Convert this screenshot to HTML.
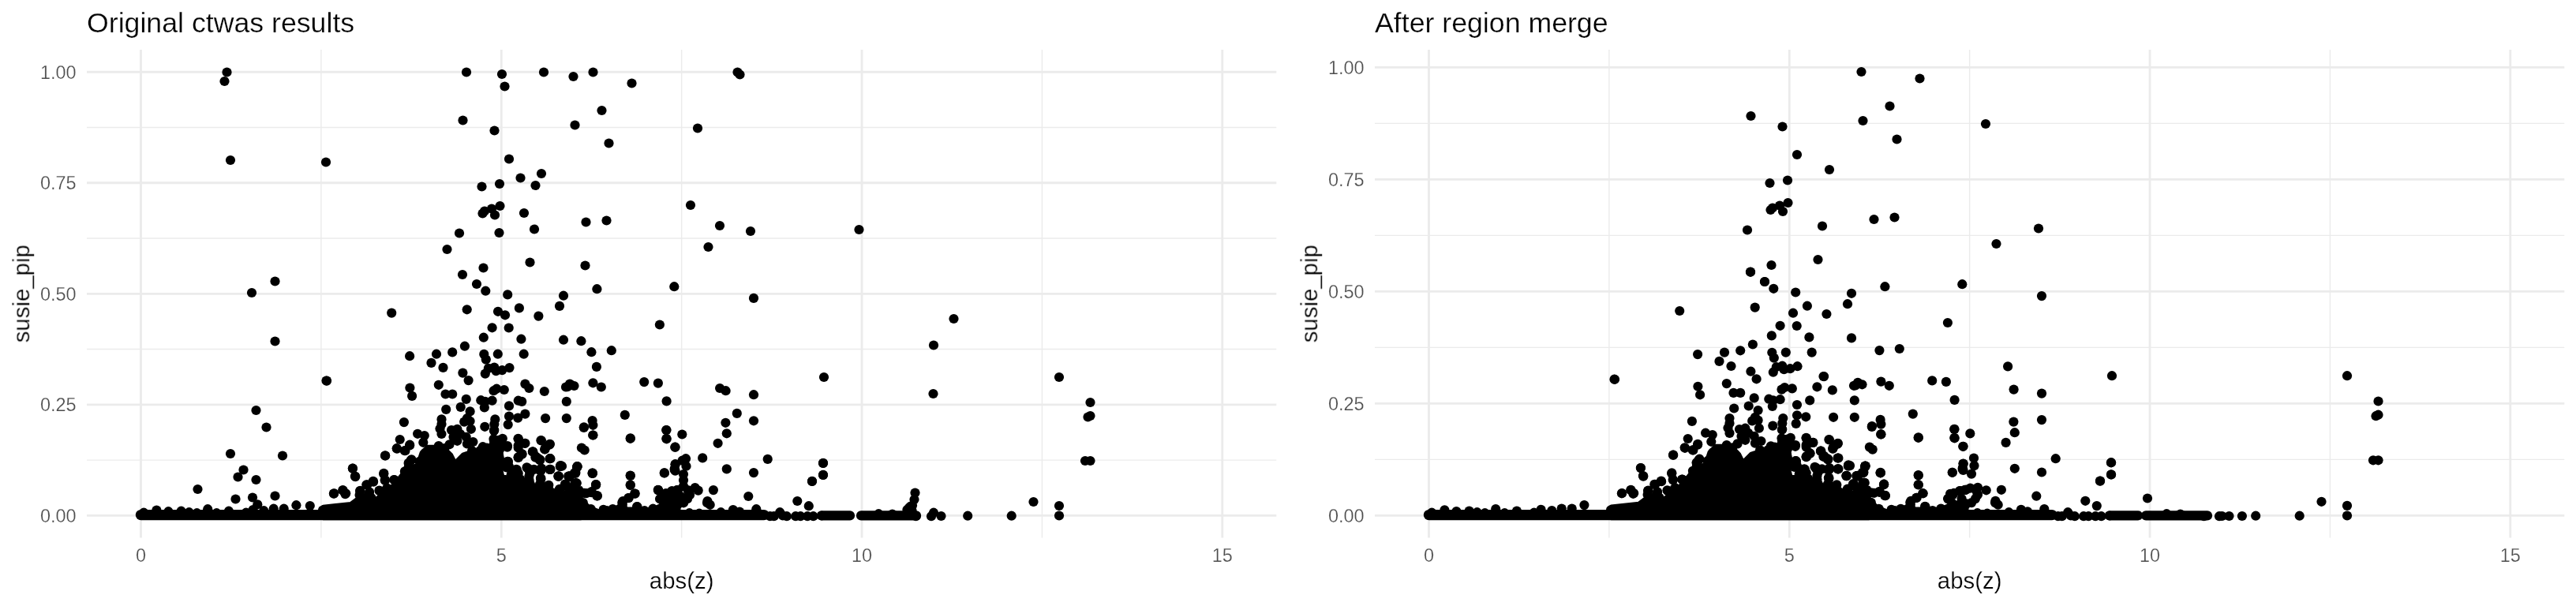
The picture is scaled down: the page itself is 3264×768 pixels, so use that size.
<!DOCTYPE html>
<html><head><meta charset="utf-8"><title>ctwas</title>
<style>
html,body{margin:0;padding:0;background:#fff}
svg{display:block}
text{font-family:"Liberation Sans",sans-serif;stroke:#fff;stroke-width:0.25px;paint-order:fill stroke}
.tk{font-size:23.47px;fill:#4d4d4d}
.ax{font-size:29.4px;fill:#000}
.ti{font-size:35.7px;fill:#000}
</style></head><body>
<svg width="3264" height="768" viewBox="0 0 3264 768">
<rect width="3264" height="768" fill="#fff"/>
<g style="opacity:0.995"><line x1="406.89" x2="406.89" y1="63.1" y2="681.5" stroke="#ebebeb" stroke-width="1.42"/>
<line x1="863.65" x2="863.65" y1="63.1" y2="681.5" stroke="#ebebeb" stroke-width="1.42"/>
<line x1="1320.41" x2="1320.41" y1="63.1" y2="681.5" stroke="#ebebeb" stroke-width="1.42"/>
<line x1="110.0" x2="1617.3" y1="583.12" y2="583.12" stroke="#ebebeb" stroke-width="1.42"/>
<line x1="110.0" x2="1617.3" y1="442.57" y2="442.57" stroke="#ebebeb" stroke-width="1.42"/>
<line x1="110.0" x2="1617.3" y1="302.03" y2="302.03" stroke="#ebebeb" stroke-width="1.42"/>
<line x1="110.0" x2="1617.3" y1="161.48" y2="161.48" stroke="#ebebeb" stroke-width="1.42"/>
<line x1="178.51" x2="178.51" y1="63.1" y2="681.5" stroke="#ebebeb" stroke-width="2.85"/>
<text x="178.51" y="711.6" text-anchor="middle" class="tk">0</text>
<line x1="635.27" x2="635.27" y1="63.1" y2="681.5" stroke="#ebebeb" stroke-width="2.85"/>
<text x="635.27" y="711.6" text-anchor="middle" class="tk">5</text>
<line x1="1092.03" x2="1092.03" y1="63.1" y2="681.5" stroke="#ebebeb" stroke-width="2.85"/>
<text x="1092.03" y="711.6" text-anchor="middle" class="tk">10</text>
<line x1="1548.79" x2="1548.79" y1="63.1" y2="681.5" stroke="#ebebeb" stroke-width="2.85"/>
<text x="1548.79" y="711.6" text-anchor="middle" class="tk">15</text>
<line x1="110.0" x2="1617.3" y1="653.40" y2="653.40" stroke="#ebebeb" stroke-width="2.85"/>
<text x="96.60" y="661.80" text-anchor="end" class="tk">0.00</text>
<line x1="110.0" x2="1617.3" y1="512.85" y2="512.85" stroke="#ebebeb" stroke-width="2.85"/>
<text x="96.60" y="521.25" text-anchor="end" class="tk">0.25</text>
<line x1="110.0" x2="1617.3" y1="372.30" y2="372.30" stroke="#ebebeb" stroke-width="2.85"/>
<text x="96.60" y="380.70" text-anchor="end" class="tk">0.50</text>
<line x1="110.0" x2="1617.3" y1="231.75" y2="231.75" stroke="#ebebeb" stroke-width="2.85"/>
<text x="96.60" y="240.15" text-anchor="end" class="tk">0.75</text>
<line x1="110.0" x2="1617.3" y1="91.20" y2="91.20" stroke="#ebebeb" stroke-width="2.85"/>
<text x="96.60" y="99.60" text-anchor="end" class="tk">1.00</text>
<text x="110.00" y="40.8" class="ti">Original ctwas results</text>
<text x="863.65" y="745.8" text-anchor="middle" class="ax">abs(z)</text>
<text transform="translate(37.20,372.30) rotate(-90)" text-anchor="middle" class="ax">susie_pip</text>
<line x1="2038.89" x2="2038.89" y1="63.1" y2="681.5" stroke="#ebebeb" stroke-width="1.42"/>
<line x1="2495.65" x2="2495.65" y1="63.1" y2="681.5" stroke="#ebebeb" stroke-width="1.42"/>
<line x1="2952.41" x2="2952.41" y1="63.1" y2="681.5" stroke="#ebebeb" stroke-width="1.42"/>
<line x1="1742.0" x2="3249.3" y1="582.40" y2="582.40" stroke="#ebebeb" stroke-width="1.42"/>
<line x1="1742.0" x2="3249.3" y1="440.40" y2="440.40" stroke="#ebebeb" stroke-width="1.42"/>
<line x1="1742.0" x2="3249.3" y1="298.40" y2="298.40" stroke="#ebebeb" stroke-width="1.42"/>
<line x1="1742.0" x2="3249.3" y1="156.40" y2="156.40" stroke="#ebebeb" stroke-width="1.42"/>
<line x1="1810.51" x2="1810.51" y1="63.1" y2="681.5" stroke="#ebebeb" stroke-width="2.85"/>
<text x="1810.51" y="711.6" text-anchor="middle" class="tk">0</text>
<line x1="2267.27" x2="2267.27" y1="63.1" y2="681.5" stroke="#ebebeb" stroke-width="2.85"/>
<text x="2267.27" y="711.6" text-anchor="middle" class="tk">5</text>
<line x1="2724.03" x2="2724.03" y1="63.1" y2="681.5" stroke="#ebebeb" stroke-width="2.85"/>
<text x="2724.03" y="711.6" text-anchor="middle" class="tk">10</text>
<line x1="3180.79" x2="3180.79" y1="63.1" y2="681.5" stroke="#ebebeb" stroke-width="2.85"/>
<text x="3180.79" y="711.6" text-anchor="middle" class="tk">15</text>
<line x1="1742.0" x2="3249.3" y1="653.40" y2="653.40" stroke="#ebebeb" stroke-width="2.85"/>
<text x="1728.60" y="661.80" text-anchor="end" class="tk">0.00</text>
<line x1="1742.0" x2="3249.3" y1="511.40" y2="511.40" stroke="#ebebeb" stroke-width="2.85"/>
<text x="1728.60" y="519.80" text-anchor="end" class="tk">0.25</text>
<line x1="1742.0" x2="3249.3" y1="369.40" y2="369.40" stroke="#ebebeb" stroke-width="2.85"/>
<text x="1728.60" y="377.80" text-anchor="end" class="tk">0.50</text>
<line x1="1742.0" x2="3249.3" y1="227.40" y2="227.40" stroke="#ebebeb" stroke-width="2.85"/>
<text x="1728.60" y="235.80" text-anchor="end" class="tk">0.75</text>
<line x1="1742.0" x2="3249.3" y1="85.40" y2="85.40" stroke="#ebebeb" stroke-width="2.85"/>
<text x="1728.60" y="93.80" text-anchor="end" class="tk">1.00</text>
<text x="1742.00" y="40.8" class="ti">After region merge</text>
<text x="2495.65" y="745.8" text-anchor="middle" class="ax">abs(z)</text>
<text transform="translate(1669.20,372.30) rotate(-90)" text-anchor="middle" class="ax">susie_pip</text></g>
<g fill="#000"><polygon points="482.2,643.5 484.7,626.1 499.7,613.6 509.7,601.1 514.6,593.7 532.1,588.7 537.1,580.0 549.5,573.7 559.5,570.0 567.0,578.7 570.7,591.2 579.4,593.7 583.2,586.2 596.9,581.2 611.8,576.7 624.3,570.0 635.5,576.2 638.0,588.7 634.3,593.7 636.8,603.6 649.2,606.1 664.2,608.6 674.1,613.6 686.6,619.8 699.1,623.6 724.0,626.1 724.0,643.5" stroke="#000" stroke-width="5" stroke-linejoin="round"/>
<polygon points="409.5,642.2 444.4,638.5 454.4,631.0 476.8,632.3 486.8,623.6 499.2,618.6 509.2,608.6 516.7,594.9 529.1,588.7 534.1,573.7 541.6,566.2 561.5,566.2 571.5,576.2 576.5,586.2 586.5,576.2 601.4,571.2 616.4,568.7 630.1,576.2 632.6,589.9 631.3,609.8 651.3,616.1 668.7,623.6 671.2,637.3 678.7,623.6 693.6,618.6 711.1,626.0 716.0,634.8 721.0,623.6 736.0,618.6 736.0,656.7 409.5,656.7" stroke="#000" stroke-width="5" stroke-linejoin="round"/>
<polygon points="620.0,605.3 631.9,611.3 659.6,619.2 671.5,623.2 679.4,619.2 695.2,619.2 707.1,623.2 719.0,627.1 730.9,625.1 738.8,635.0 746.7,643.0 758.6,647.9 778.4,645.0 788.3,639.0 794.3,645.0 806.1,645.0 818.0,645.9 829.9,644.0 837.8,640.0 847.7,637.0 860.0,635.0 860.0,655.4 620.0,655.4" stroke="#000" stroke-width="5" stroke-linejoin="round"/><polygon points="2114.2,643.4 2116.7,625.8 2131.7,613.2 2141.7,600.6 2146.6,593.1 2164.1,588.0 2169.1,579.2 2181.5,572.9 2191.5,569.1 2199.0,577.9 2202.7,590.6 2211.4,593.1 2215.2,585.5 2228.9,580.5 2243.8,575.9 2256.3,569.1 2267.5,575.4 2270.0,588.0 2266.3,593.1 2268.8,603.1 2281.2,605.6 2296.2,608.1 2306.1,613.2 2318.6,619.5 2331.1,623.3 2356.0,625.8 2356.0,643.4" stroke="#000" stroke-width="5" stroke-linejoin="round"/>
<polygon points="2041.5,642.1 2076.4,638.3 2086.4,630.8 2108.8,632.1 2118.8,623.3 2131.2,618.2 2141.2,608.1 2148.7,594.3 2161.1,588.0 2166.1,572.9 2173.6,565.3 2193.5,565.3 2203.5,575.4 2208.5,585.5 2218.5,575.4 2233.4,570.4 2248.4,567.8 2262.1,575.4 2264.6,589.2 2263.3,609.4 2283.3,615.7 2300.7,623.3 2303.2,637.1 2310.7,623.3 2325.6,618.2 2343.1,625.7 2348.0,634.6 2353.0,623.3 2368.0,618.2 2368.0,656.7 2041.5,656.7" stroke="#000" stroke-width="5" stroke-linejoin="round"/>
<polygon points="2252.0,604.8 2263.9,610.9 2291.6,618.8 2303.5,622.9 2311.4,618.8 2327.2,618.8 2339.1,622.9 2351.0,626.8 2362.9,624.8 2370.8,634.8 2378.7,642.9 2390.6,647.8 2410.4,644.9 2420.3,638.9 2426.3,644.9 2438.1,644.9 2450.0,645.8 2461.9,643.9 2469.8,639.9 2479.7,636.8 2492.0,634.8 2492.0,655.4 2252.0,655.4" stroke="#000" stroke-width="5" stroke-linejoin="round"/><line x1="178.5" x2="968" y1="652.6" y2="652.6" stroke="#000" stroke-width="13.4" stroke-linecap="round"/><line x1="1041" x2="1077" y1="653.4" y2="653.4" stroke="#000" stroke-width="12.2" stroke-linecap="round"/><line x1="1091" x2="1161" y1="653.4" y2="653.4" stroke="#000" stroke-width="12.2" stroke-linecap="round"/><line x1="1810.5" x2="2600" y1="652.6" y2="652.6" stroke="#000" stroke-width="13.4" stroke-linecap="round"/><line x1="2673" x2="2709" y1="653.4" y2="653.4" stroke="#000" stroke-width="12.2" stroke-linecap="round"/><line x1="2719" x2="2797" y1="653.4" y2="653.4" stroke="#000" stroke-width="12.2" stroke-linecap="round"/><circle cx="287.5" cy="91.5" r="6.1"/><circle cx="284.5" cy="103.0" r="6.1"/><circle cx="292.0" cy="203.0" r="6.1"/><circle cx="413.0" cy="205.5" r="6.1"/><circle cx="348.5" cy="356.5" r="6.1"/><circle cx="591.0" cy="91.5" r="6.1"/><circle cx="636.0" cy="94.0" r="6.1"/><circle cx="639.5" cy="109.5" r="6.1"/><circle cx="689.0" cy="91.5" r="6.1"/><circle cx="726.5" cy="97.0" r="6.1"/><circle cx="586.5" cy="152.5" r="6.1"/><circle cx="626.5" cy="165.5" r="6.1"/><circle cx="728.5" cy="158.5" r="6.1"/><circle cx="645.0" cy="201.5" r="6.1"/><circle cx="686.0" cy="220.0" r="6.1"/><circle cx="659.5" cy="225.5" r="6.1"/><circle cx="678.5" cy="235.0" r="6.1"/><circle cx="633.0" cy="233.0" r="6.1"/><circle cx="610.5" cy="236.5" r="6.1"/><circle cx="633.5" cy="261.0" r="6.1"/><circle cx="623.0" cy="264.5" r="6.1"/><circle cx="614.0" cy="267.5" r="6.1"/><circle cx="611.5" cy="270.5" r="6.1"/><circle cx="627.0" cy="272.5" r="6.1"/><circle cx="664.0" cy="270.0" r="6.1"/><circle cx="677.0" cy="290.5" r="6.1"/><circle cx="632.5" cy="295.0" r="6.1"/><circle cx="582.0" cy="295.5" r="6.1"/><circle cx="566.5" cy="316.0" r="6.1"/><circle cx="671.5" cy="332.5" r="6.1"/><circle cx="612.5" cy="339.5" r="6.1"/><circle cx="586.0" cy="348.0" r="6.1"/><circle cx="604.0" cy="360.0" r="6.1"/><circle cx="742.5" cy="281.5" r="6.1"/><circle cx="741.5" cy="336.5" r="6.1"/><circle cx="751.5" cy="91.5" r="6.1"/><circle cx="800.5" cy="105.5" r="6.1"/><circle cx="762.5" cy="140.0" r="6.1"/><circle cx="771.5" cy="181.5" r="6.1"/><circle cx="934.5" cy="91.5" r="6.1"/><circle cx="937.5" cy="94.5" r="6.1"/><circle cx="884.0" cy="162.5" r="6.1"/><circle cx="875.0" cy="260.0" r="6.1"/><circle cx="768.5" cy="279.5" r="6.1"/><circle cx="912.0" cy="286.0" r="6.1"/><circle cx="951.0" cy="293.0" r="6.1"/><circle cx="1088.5" cy="291.0" r="6.1"/><circle cx="897.5" cy="313.0" r="6.1"/><circle cx="319.0" cy="371.0" r="6.1"/><circle cx="348.5" cy="432.5" r="6.1"/><circle cx="413.5" cy="482.5" r="6.1"/><circle cx="324.5" cy="520.0" r="6.1"/><circle cx="337.5" cy="541.5" r="6.1"/><circle cx="292.0" cy="575.0" r="6.1"/><circle cx="358.0" cy="577.5" r="6.1"/><circle cx="308.5" cy="595.5" r="6.1"/><circle cx="301.5" cy="604.5" r="6.1"/><circle cx="324.5" cy="608.0" r="6.1"/><circle cx="250.5" cy="620.0" r="6.1"/><circle cx="298.5" cy="632.5" r="6.1"/><circle cx="320.0" cy="630.5" r="6.1"/><circle cx="348.5" cy="628.5" r="6.1"/><circle cx="615.3" cy="368.7" r="6.1"/><circle cx="643.2" cy="373.4" r="6.1"/><circle cx="714.0" cy="374.7" r="6.1"/><circle cx="709.0" cy="387.9" r="6.1"/><circle cx="496.2" cy="396.6" r="6.1"/><circle cx="591.7" cy="392.3" r="6.1"/><circle cx="657.9" cy="390.4" r="6.1"/><circle cx="631.0" cy="394.8" r="6.1"/><circle cx="640.0" cy="399.3" r="6.1"/><circle cx="682.4" cy="400.6" r="6.1"/><circle cx="623.6" cy="415.3" r="6.1"/><circle cx="644.7" cy="415.5" r="6.1"/><circle cx="612.8" cy="427.7" r="6.1"/><circle cx="660.4" cy="429.7" r="6.1"/><circle cx="714.0" cy="430.7" r="6.1"/><circle cx="588.9" cy="438.7" r="6.1"/><circle cx="573.2" cy="446.4" r="6.1"/><circle cx="553.0" cy="448.7" r="6.1"/><circle cx="519.1" cy="451.2" r="6.1"/><circle cx="546.5" cy="459.9" r="6.1"/><circle cx="561.5" cy="465.9" r="6.1"/><circle cx="613.3" cy="448.9" r="6.1"/><circle cx="615.8" cy="455.6" r="6.1"/><circle cx="630.8" cy="448.7" r="6.1"/><circle cx="663.7" cy="448.7" r="6.1"/><circle cx="586.4" cy="472.6" r="6.1"/><circle cx="593.6" cy="482.1" r="6.1"/><circle cx="614.8" cy="473.6" r="6.1"/><circle cx="618.8" cy="466.9" r="6.1"/><circle cx="626.3" cy="465.6" r="6.1"/><circle cx="628.5" cy="470.1" r="6.1"/><circle cx="636.3" cy="469.1" r="6.1"/><circle cx="645.5" cy="466.1" r="6.1"/><circle cx="414.0" cy="482.6" r="6.1"/><circle cx="519.4" cy="491.5" r="6.1"/><circle cx="555.8" cy="487.8" r="6.1"/><circle cx="665.4" cy="486.6" r="6.1"/><circle cx="670.4" cy="492.0" r="6.1"/><circle cx="756.4" cy="366.2" r="6.1"/><circle cx="854.3" cy="363.2" r="6.1"/><circle cx="955.0" cy="377.9" r="6.1"/><circle cx="835.9" cy="411.5" r="6.1"/><circle cx="736.4" cy="432.2" r="6.1"/><circle cx="749.4" cy="446.2" r="6.1"/><circle cx="774.8" cy="444.2" r="6.1"/><circle cx="755.9" cy="464.9" r="6.1"/><circle cx="816.2" cy="484.1" r="6.1"/><circle cx="833.9" cy="485.6" r="6.1"/><circle cx="751.4" cy="485.3" r="6.1"/><circle cx="761.8" cy="490.5" r="6.1"/><circle cx="722.0" cy="486.6" r="6.1"/><circle cx="727.5" cy="489.0" r="6.1"/><circle cx="717.0" cy="490.5" r="6.1"/><circle cx="1208.5" cy="404.0" r="6.1"/><circle cx="1183.0" cy="437.5" r="6.1"/><circle cx="1044.0" cy="478.0" r="6.1"/><circle cx="1182.5" cy="499.0" r="6.1"/><circle cx="1342.0" cy="478.0" r="6.1"/><circle cx="1381.5" cy="510.0" r="6.1"/><circle cx="1381.5" cy="527.0" r="6.1"/><circle cx="1378.5" cy="528.5" r="6.1"/><circle cx="1375.0" cy="584.0" r="6.1"/><circle cx="1381.5" cy="584.0" r="6.1"/><circle cx="1043.0" cy="587.0" r="6.1"/><circle cx="1043.0" cy="602.0" r="6.1"/><circle cx="1029.0" cy="610.0" r="6.1"/><circle cx="1309.5" cy="636.0" r="6.1"/><circle cx="1342.0" cy="641.0" r="6.1"/><circle cx="1159.5" cy="624.5" r="6.1"/><circle cx="1158.5" cy="633.0" r="6.1"/><circle cx="1156.0" cy="640.5" r="6.1"/><circle cx="1151.5" cy="644.0" r="6.1"/><circle cx="522.1" cy="501.9" r="6.1"/><circle cx="564.5" cy="499.5" r="6.1"/><circle cx="573.2" cy="499.5" r="6.1"/><circle cx="590.7" cy="505.9" r="6.1"/><circle cx="629.3" cy="492.7" r="6.1"/><circle cx="625.5" cy="495.2" r="6.1"/><circle cx="638.8" cy="494.0" r="6.1"/><circle cx="609.3" cy="507.2" r="6.1"/><circle cx="614.8" cy="508.9" r="6.1"/><circle cx="623.6" cy="507.7" r="6.1"/><circle cx="613.8" cy="516.4" r="6.1"/><circle cx="583.7" cy="515.9" r="6.1"/><circle cx="565.2" cy="518.9" r="6.1"/><circle cx="595.6" cy="521.4" r="6.1"/><circle cx="656.7" cy="507.7" r="6.1"/><circle cx="661.2" cy="508.9" r="6.1"/><circle cx="645.0" cy="514.4" r="6.1"/><circle cx="689.8" cy="496.0" r="6.1"/><circle cx="719.0" cy="490.2" r="6.1"/><circle cx="717.8" cy="508.9" r="6.1"/><circle cx="665.4" cy="524.6" r="6.1"/><circle cx="656.2" cy="529.6" r="6.1"/><circle cx="645.0" cy="527.6" r="6.1"/><circle cx="643.7" cy="538.1" r="6.1"/><circle cx="691.1" cy="530.1" r="6.1"/><circle cx="717.8" cy="530.1" r="6.1"/><circle cx="627.3" cy="531.4" r="6.1"/><circle cx="626.3" cy="537.6" r="6.1"/><circle cx="626.3" cy="545.1" r="6.1"/><circle cx="614.3" cy="540.8" r="6.1"/><circle cx="559.5" cy="531.4" r="6.1"/><circle cx="559.5" cy="537.6" r="6.1"/><circle cx="557.5" cy="543.3" r="6.1"/><circle cx="559.5" cy="550.0" r="6.1"/><circle cx="591.9" cy="530.1" r="6.1"/><circle cx="588.2" cy="534.6" r="6.1"/><circle cx="595.6" cy="533.8" r="6.1"/><circle cx="596.9" cy="543.8" r="6.1"/><circle cx="572.0" cy="545.1" r="6.1"/><circle cx="579.4" cy="543.8" r="6.1"/><circle cx="583.2" cy="550.0" r="6.1"/><circle cx="574.5" cy="553.8" r="6.1"/><circle cx="579.4" cy="558.8" r="6.1"/><circle cx="569.5" cy="563.3" r="6.1"/><circle cx="590.7" cy="553.8" r="6.1"/><circle cx="591.9" cy="562.5" r="6.1"/><circle cx="599.4" cy="560.0" r="6.1"/><circle cx="511.9" cy="535.1" r="6.1"/><circle cx="529.1" cy="549.8" r="6.1"/><circle cx="537.8" cy="552.0" r="6.1"/><circle cx="536.3" cy="560.8" r="6.1"/><circle cx="506.7" cy="557.0" r="6.1"/><circle cx="519.1" cy="564.5" r="6.1"/><circle cx="502.7" cy="568.2" r="6.1"/><circle cx="513.4" cy="571.2" r="6.1"/><circle cx="488.2" cy="577.5" r="6.1"/><circle cx="521.4" cy="582.4" r="6.1"/><circle cx="517.6" cy="586.9" r="6.1"/><circle cx="446.9" cy="593.7" r="6.1"/><circle cx="450.3" cy="604.1" r="6.1"/><circle cx="486.2" cy="600.6" r="6.1"/><circle cx="487.7" cy="608.6" r="6.1"/><circle cx="472.8" cy="609.9" r="6.1"/><circle cx="465.3" cy="614.3" r="6.1"/><circle cx="499.7" cy="608.1" r="6.1"/><circle cx="505.9" cy="609.9" r="6.1"/><circle cx="422.9" cy="625.6" r="6.1"/><circle cx="434.4" cy="621.6" r="6.1"/><circle cx="437.4" cy="626.1" r="6.1"/><circle cx="456.1" cy="622.3" r="6.1"/><circle cx="456.8" cy="628.5" r="6.1"/><circle cx="467.3" cy="626.1" r="6.1"/><circle cx="469.8" cy="631.0" r="6.1"/><circle cx="481.0" cy="622.3" r="6.1"/><circle cx="489.7" cy="619.8" r="6.1"/><circle cx="656.7" cy="556.3" r="6.1"/><circle cx="665.4" cy="561.8" r="6.1"/><circle cx="656.7" cy="567.5" r="6.1"/><circle cx="661.2" cy="575.0" r="6.1"/><circle cx="656.7" cy="580.0" r="6.1"/><circle cx="685.4" cy="558.0" r="6.1"/><circle cx="696.6" cy="563.0" r="6.1"/><circle cx="690.3" cy="569.5" r="6.1"/><circle cx="675.4" cy="572.5" r="6.1"/><circle cx="679.1" cy="578.7" r="6.1"/><circle cx="684.1" cy="583.2" r="6.1"/><circle cx="696.6" cy="581.2" r="6.1"/><circle cx="710.3" cy="590.4" r="6.1"/><circle cx="696.6" cy="594.9" r="6.1"/><circle cx="707.8" cy="603.6" r="6.1"/><circle cx="720.2" cy="603.6" r="6.1"/><circle cx="625.5" cy="556.3" r="6.1"/><circle cx="635.5" cy="558.8" r="6.1"/><circle cx="643.0" cy="565.0" r="6.1"/><circle cx="631.8" cy="565.0" r="6.1"/><circle cx="611.8" cy="566.2" r="6.1"/><circle cx="616.8" cy="570.0" r="6.1"/><circle cx="598.1" cy="571.2" r="6.1"/><circle cx="643.0" cy="584.9" r="6.1"/><circle cx="643.7" cy="591.2" r="6.1"/><circle cx="654.2" cy="594.9" r="6.1"/><circle cx="656.7" cy="599.9" r="6.1"/><circle cx="659.2" cy="607.4" r="6.1"/><circle cx="669.2" cy="593.7" r="6.1"/><circle cx="676.6" cy="594.9" r="6.1"/><circle cx="684.1" cy="596.1" r="6.1"/><circle cx="670.4" cy="603.6" r="6.1"/><circle cx="685.4" cy="606.1" r="6.1"/><circle cx="671.7" cy="613.6" r="6.1"/><circle cx="684.1" cy="613.6" r="6.1"/><circle cx="695.3" cy="614.8" r="6.1"/><circle cx="709.0" cy="619.8" r="6.1"/><circle cx="716.5" cy="614.8" r="6.1"/><circle cx="639.3" cy="608.6" r="6.1"/><circle cx="538.3" cy="574.2" r="6.1"/><circle cx="545.8" cy="570.0" r="6.1"/><circle cx="555.8" cy="565.0" r="6.1"/><circle cx="563.2" cy="568.2" r="6.1"/><circle cx="599.4" cy="575.0" r="6.1"/><circle cx="608.1" cy="571.2" r="6.1"/><circle cx="616.8" cy="567.5" r="6.1"/><circle cx="625.5" cy="563.8" r="6.1"/><circle cx="633.0" cy="570.0" r="6.1"/><circle cx="543.3" cy="581.2" r="6.1"/><circle cx="912.1" cy="492.0" r="6.1"/><circle cx="919.6" cy="495.2" r="6.1"/><circle cx="955.0" cy="500.2" r="6.1"/><circle cx="844.6" cy="508.4" r="6.1"/><circle cx="791.8" cy="525.9" r="6.1"/><circle cx="933.8" cy="523.9" r="6.1"/><circle cx="955.0" cy="533.3" r="6.1"/><circle cx="919.4" cy="535.8" r="6.1"/><circle cx="920.8" cy="549.3" r="6.1"/><circle cx="909.6" cy="561.8" r="6.1"/><circle cx="750.6" cy="533.1" r="6.1"/><circle cx="751.4" cy="538.8" r="6.1"/><circle cx="739.9" cy="541.3" r="6.1"/><circle cx="751.4" cy="551.5" r="6.1"/><circle cx="798.7" cy="555.8" r="6.1"/><circle cx="844.3" cy="545.1" r="6.1"/><circle cx="844.6" cy="556.3" r="6.1"/><circle cx="864.3" cy="550.5" r="6.1"/><circle cx="855.3" cy="566.7" r="6.1"/><circle cx="736.9" cy="567.5" r="6.1"/><circle cx="740.7" cy="570.5" r="6.1"/><circle cx="890.2" cy="580.4" r="6.1"/><circle cx="972.7" cy="581.9" r="6.1"/><circle cx="869.0" cy="581.2" r="6.1"/><circle cx="864.5" cy="583.7" r="6.1"/><circle cx="869.5" cy="590.7" r="6.1"/><circle cx="855.6" cy="588.2" r="6.1"/><circle cx="854.8" cy="593.7" r="6.1"/><circle cx="855.6" cy="596.6" r="6.1"/><circle cx="841.8" cy="599.4" r="6.1"/><circle cx="920.8" cy="594.4" r="6.1"/><circle cx="955.0" cy="599.1" r="6.1"/><circle cx="1029.0" cy="609.9" r="6.1"/><circle cx="866.0" cy="601.1" r="6.1"/><circle cx="866.0" cy="608.6" r="6.1"/><circle cx="866.0" cy="616.1" r="6.1"/><circle cx="731.4" cy="591.2" r="6.1"/><circle cx="712.0" cy="590.7" r="6.1"/><circle cx="729.4" cy="599.1" r="6.1"/><circle cx="722.0" cy="604.1" r="6.1"/><circle cx="750.6" cy="599.9" r="6.1"/><circle cx="798.7" cy="602.6" r="6.1"/><circle cx="798.7" cy="614.6" r="6.1"/><circle cx="804.7" cy="625.6" r="6.1"/><circle cx="796.7" cy="631.0" r="6.1"/><circle cx="789.3" cy="635.0" r="6.1"/><circle cx="755.1" cy="614.1" r="6.1"/><circle cx="730.7" cy="612.3" r="6.1"/><circle cx="717.0" cy="616.1" r="6.1"/><circle cx="727.0" cy="621.1" r="6.1"/><circle cx="736.9" cy="624.8" r="6.1"/><circle cx="749.4" cy="624.1" r="6.1"/><circle cx="756.9" cy="628.5" r="6.1"/><circle cx="719.5" cy="626.1" r="6.1"/><circle cx="833.9" cy="621.1" r="6.1"/><circle cx="839.1" cy="626.1" r="6.1"/><circle cx="836.6" cy="632.3" r="6.1"/><circle cx="851.6" cy="622.3" r="6.1"/><circle cx="859.0" cy="621.1" r="6.1"/><circle cx="871.5" cy="621.1" r="6.1"/><circle cx="880.7" cy="618.1" r="6.1"/><circle cx="884.7" cy="621.6" r="6.1"/><circle cx="874.0" cy="627.3" r="6.1"/><circle cx="861.5" cy="628.5" r="6.1"/><circle cx="849.1" cy="631.0" r="6.1"/><circle cx="903.9" cy="621.1" r="6.1"/><circle cx="896.4" cy="635.0" r="6.1"/><circle cx="948.3" cy="629.0" r="6.1"/><circle cx="1010.3" cy="635.0" r="6.1"/><circle cx="326.3" cy="639.3" r="6.1"/><circle cx="320.6" cy="646.0" r="6.1"/><circle cx="334.3" cy="647.2" r="6.1"/><circle cx="375.4" cy="640.2" r="6.1"/><circle cx="392.8" cy="641.0" r="6.1"/><circle cx="346.7" cy="644.7" r="6.1"/><circle cx="359.7" cy="644.7" r="6.1"/><circle cx="263.2" cy="645.2" r="6.1"/><circle cx="198.4" cy="646.5" r="6.1"/><circle cx="213.4" cy="648.2" r="6.1"/><circle cx="229.6" cy="647.7" r="6.1"/><circle cx="289.9" cy="647.7" r="6.1"/><circle cx="182.2" cy="649.7" r="6.1"/><circle cx="409.0" cy="646.5" r="6.1"/><circle cx="239.6" cy="649.2" r="6.1"/><circle cx="274.5" cy="650.2" r="6.1"/><circle cx="249.5" cy="650.2" r="6.1"/><circle cx="311.8" cy="649.7" r="6.1"/><circle cx="423.2" cy="625.3" r="6.1"/><circle cx="434.4" cy="621.1" r="6.1"/><circle cx="438.2" cy="625.3" r="6.1"/><circle cx="446.9" cy="593.6" r="6.1"/><circle cx="449.9" cy="603.6" r="6.1"/><circle cx="488.0" cy="577.4" r="6.1"/><circle cx="456.4" cy="621.8" r="6.1"/><circle cx="455.6" cy="627.3" r="6.1"/><circle cx="464.3" cy="614.3" r="6.1"/><circle cx="473.1" cy="610.6" r="6.1"/><circle cx="468.1" cy="623.6" r="6.1"/><circle cx="470.6" cy="631.0" r="6.1"/><circle cx="486.3" cy="599.9" r="6.1"/><circle cx="488.0" cy="608.6" r="6.1"/><circle cx="480.5" cy="621.6" r="6.1"/><circle cx="490.5" cy="618.6" r="6.1"/><circle cx="499.2" cy="608.1" r="6.1"/><circle cx="503.0" cy="568.7" r="6.1"/><circle cx="512.9" cy="571.2" r="6.1"/><circle cx="519.2" cy="563.7" r="6.1"/><circle cx="520.4" cy="583.7" r="6.1"/><circle cx="517.9" cy="591.2" r="6.1"/><circle cx="512.9" cy="597.4" r="6.1"/><circle cx="531.6" cy="584.9" r="6.1"/><circle cx="697.4" cy="581.2" r="6.1"/><circle cx="697.4" cy="594.9" r="6.1"/><circle cx="709.8" cy="591.2" r="6.1"/><circle cx="707.3" cy="603.6" r="6.1"/><circle cx="721.0" cy="603.6" r="6.1"/><circle cx="731.0" cy="592.4" r="6.1"/><circle cx="674.9" cy="572.5" r="6.1"/><circle cx="682.4" cy="581.2" r="6.1"/><circle cx="686.1" cy="593.6" r="6.1"/><circle cx="684.9" cy="606.1" r="6.1"/><circle cx="693.6" cy="616.1" r="6.1"/><circle cx="671.2" cy="613.6" r="6.1"/><circle cx="671.2" cy="597.4" r="6.1"/><circle cx="667.5" cy="592.4" r="6.1"/><circle cx="657.5" cy="578.7" r="6.1"/><circle cx="643.8" cy="584.9" r="6.1"/><circle cx="645.0" cy="591.2" r="6.1"/><circle cx="653.7" cy="597.4" r="6.1"/><circle cx="657.5" cy="608.6" r="6.1"/><circle cx="638.8" cy="611.1" r="6.1"/><circle cx="716.0" cy="613.6" r="6.1"/><circle cx="728.5" cy="612.3" r="6.1"/><circle cx="708.6" cy="621.1" r="6.1"/><circle cx="691.1" cy="567.5" r="6.1"/><circle cx="696.1" cy="563.7" r="6.1"/><circle cx="731.5" cy="591.2" r="6.1"/><circle cx="729.0" cy="599.9" r="6.1"/><circle cx="750.9" cy="599.9" r="6.1"/><circle cx="730.2" cy="612.3" r="6.1"/><circle cx="755.2" cy="614.1" r="6.1"/><circle cx="748.9" cy="623.6" r="6.1"/><circle cx="756.4" cy="628.5" r="6.1"/><circle cx="740.2" cy="624.8" r="6.1"/><circle cx="739.0" cy="639.8" r="6.1"/><circle cx="729.0" cy="622.3" r="6.1"/><circle cx="729.0" cy="632.3" r="6.1"/><circle cx="833.9" cy="621.1" r="6.1"/><circle cx="836.1" cy="632.3" r="6.1"/><circle cx="842.4" cy="627.3" r="6.1"/><circle cx="841.1" cy="637.3" r="6.1"/><circle cx="851.1" cy="622.3" r="6.1"/><circle cx="858.6" cy="621.1" r="6.1"/><circle cx="853.6" cy="632.3" r="6.1"/><circle cx="863.6" cy="629.8" r="6.1"/><circle cx="871.0" cy="632.3" r="6.1"/><circle cx="873.5" cy="626.0" r="6.1"/><circle cx="866.1" cy="637.3" r="6.1"/><circle cx="858.6" cy="639.8" r="6.1"/><circle cx="896.0" cy="637.3" r="6.1"/><circle cx="899.7" cy="639.8" r="6.1"/><circle cx="1024.8" cy="641.2" r="6.1"/><circle cx="958.3" cy="645.2" r="6.1"/><circle cx="928.9" cy="646.0" r="6.1"/><circle cx="807.5" cy="642.2" r="6.1"/><circle cx="816.7" cy="647.2" r="6.1"/><circle cx="827.4" cy="644.7" r="6.1"/><circle cx="788.8" cy="639.8" r="6.1"/><circle cx="777.6" cy="646.0" r="6.1"/><circle cx="768.9" cy="647.2" r="6.1"/><circle cx="748.9" cy="647.2" r="6.1"/><circle cx="873.5" cy="650.2" r="6.1"/><circle cx="886.0" cy="650.7" r="6.1"/><circle cx="913.4" cy="649.2" r="6.1"/><circle cx="937.1" cy="648.5" r="6.1"/><circle cx="988.2" cy="649.2" r="6.1"/><circle cx="1043.0" cy="586.9" r="6.1"/><circle cx="1043.0" cy="601.9" r="6.1"/><circle cx="1155.6" cy="647.2" r="6.1"/><circle cx="1160.6" cy="654.2" r="6.1"/><circle cx="1183.0" cy="649.7" r="6.1"/><circle cx="1180.0" cy="654.2" r="6.1"/><circle cx="1192.5" cy="654.0" r="6.1"/><circle cx="1226.2" cy="653.7" r="6.1"/><circle cx="1281.7" cy="653.7" r="6.1"/><circle cx="1342.0" cy="653.5" r="6.1"/><circle cx="1113.3" cy="651.2" r="6.1"/><circle cx="1130.7" cy="651.5" r="6.1"/><circle cx="1149.4" cy="646.0" r="6.1"/><circle cx="1153.1" cy="642.2" r="6.1"/><circle cx="625.9" cy="545.9" r="6.1"/><circle cx="631.9" cy="557.8" r="6.1"/><circle cx="642.8" cy="566.7" r="6.1"/><circle cx="625.9" cy="558.8" r="6.1"/><circle cx="636.8" cy="555.8" r="6.1"/><circle cx="656.6" cy="555.8" r="6.1"/><circle cx="665.1" cy="561.8" r="6.1"/><circle cx="656.6" cy="564.8" r="6.1"/><circle cx="661.6" cy="575.6" r="6.1"/><circle cx="656.6" cy="579.6" r="6.1"/><circle cx="685.9" cy="558.4" r="6.1"/><circle cx="696.8" cy="562.8" r="6.1"/><circle cx="690.3" cy="569.3" r="6.1"/><circle cx="675.0" cy="572.3" r="6.1"/><circle cx="678.4" cy="579.6" r="6.1"/><circle cx="684.4" cy="582.6" r="6.1"/><circle cx="696.8" cy="581.2" r="6.1"/><circle cx="696.8" cy="595.0" r="6.1"/><circle cx="710.1" cy="590.1" r="6.1"/><circle cx="707.7" cy="603.4" r="6.1"/><circle cx="731.5" cy="591.1" r="6.1"/><circle cx="727.9" cy="599.4" r="6.1"/><circle cx="721.4" cy="603.4" r="6.1"/><circle cx="729.9" cy="612.3" r="6.1"/><circle cx="717.0" cy="614.3" r="6.1"/><circle cx="750.7" cy="599.4" r="6.1"/><circle cx="755.0" cy="614.7" r="6.1"/><circle cx="756.6" cy="628.1" r="6.1"/><circle cx="749.7" cy="623.2" r="6.1"/><circle cx="742.8" cy="625.1" r="6.1"/><circle cx="751.3" cy="551.5" r="6.1"/><circle cx="739.8" cy="542.0" r="6.1"/><circle cx="798.8" cy="555.4" r="6.1"/><circle cx="798.8" cy="603.0" r="6.1"/><circle cx="798.8" cy="614.9" r="6.1"/><circle cx="804.2" cy="625.5" r="6.1"/><circle cx="796.2" cy="631.1" r="6.1"/><circle cx="788.3" cy="637.0" r="6.1"/><circle cx="807.1" cy="642.0" r="6.1"/><circle cx="844.4" cy="545.0" r="6.1"/><circle cx="844.4" cy="555.8" r="6.1"/><circle cx="855.6" cy="566.7" r="6.1"/><circle cx="855.6" cy="588.5" r="6.1"/><circle cx="854.7" cy="595.4" r="6.1"/><circle cx="841.8" cy="599.4" r="6.1"/><circle cx="833.9" cy="620.8" r="6.1"/><circle cx="836.8" cy="632.1" r="6.1"/><circle cx="843.8" cy="625.1" r="6.1"/><circle cx="851.7" cy="623.2" r="6.1"/><circle cx="857.6" cy="621.2" r="6.1"/><circle cx="625.0" cy="579.6" r="6.1"/><circle cx="631.9" cy="575.6" r="6.1"/><circle cx="643.8" cy="585.5" r="6.1"/><circle cx="627.9" cy="591.5" r="6.1"/><circle cx="641.8" cy="592.5" r="6.1"/><circle cx="654.7" cy="595.4" r="6.1"/><circle cx="647.7" cy="601.4" r="6.1"/><circle cx="655.6" cy="607.3" r="6.1"/><circle cx="639.8" cy="610.3" r="6.1"/><circle cx="625.9" cy="603.4" r="6.1"/><circle cx="668.5" cy="593.5" r="6.1"/><circle cx="671.5" cy="599.4" r="6.1"/><circle cx="685.3" cy="596.4" r="6.1"/><circle cx="670.5" cy="608.3" r="6.1"/><circle cx="685.3" cy="607.3" r="6.1"/><circle cx="669.5" cy="615.2" r="6.1"/><circle cx="684.4" cy="614.3" r="6.1"/><circle cx="694.9" cy="616.2" r="6.1"/><circle cx="709.1" cy="621.2" r="6.1"/><circle cx="723.0" cy="619.2" r="6.1"/><circle cx="734.9" cy="623.2" r="6.1"/><circle cx="738.8" cy="637.0" r="6.1"/><circle cx="748.7" cy="645.0" r="6.1"/><circle cx="776.4" cy="645.0" r="6.1"/><circle cx="764.6" cy="645.9" r="6.1"/><circle cx="975.7" cy="654.2" r="6.1"/><circle cx="980.7" cy="654.2" r="6.1"/><circle cx="991.9" cy="653.5" r="6.1"/><circle cx="996.9" cy="654.2" r="6.1"/><circle cx="1008.1" cy="654.2" r="6.1"/><circle cx="1014.3" cy="654.2" r="6.1"/><circle cx="1023.1" cy="654.2" r="6.1"/><circle cx="1030.5" cy="654.2" r="6.1"/><circle cx="1041.0" cy="653.5" r="6.1"/><circle cx="2218.0" cy="344.8" r="6.1"/><circle cx="2236.0" cy="357.0" r="6.1"/><circle cx="2045.5" cy="480.7" r="6.1"/><circle cx="2247.3" cy="365.8" r="6.1"/><circle cx="2275.2" cy="370.5" r="6.1"/><circle cx="2346.0" cy="371.8" r="6.1"/><circle cx="2341.0" cy="385.2" r="6.1"/><circle cx="2128.2" cy="394.0" r="6.1"/><circle cx="2223.7" cy="389.6" r="6.1"/><circle cx="2289.9" cy="387.7" r="6.1"/><circle cx="2272.0" cy="396.7" r="6.1"/><circle cx="2314.4" cy="398.0" r="6.1"/><circle cx="2255.6" cy="412.8" r="6.1"/><circle cx="2276.7" cy="413.0" r="6.1"/><circle cx="2244.8" cy="425.4" r="6.1"/><circle cx="2292.4" cy="427.4" r="6.1"/><circle cx="2346.0" cy="428.4" r="6.1"/><circle cx="2220.9" cy="436.5" r="6.1"/><circle cx="2205.2" cy="444.3" r="6.1"/><circle cx="2185.0" cy="446.6" r="6.1"/><circle cx="2151.1" cy="449.1" r="6.1"/><circle cx="2178.5" cy="457.9" r="6.1"/><circle cx="2193.5" cy="464.0" r="6.1"/><circle cx="2245.3" cy="446.8" r="6.1"/><circle cx="2247.8" cy="453.6" r="6.1"/><circle cx="2262.8" cy="446.6" r="6.1"/><circle cx="2295.7" cy="446.6" r="6.1"/><circle cx="2218.4" cy="470.7" r="6.1"/><circle cx="2225.6" cy="480.3" r="6.1"/><circle cx="2246.8" cy="471.7" r="6.1"/><circle cx="2250.8" cy="465.0" r="6.1"/><circle cx="2258.3" cy="463.7" r="6.1"/><circle cx="2260.5" cy="468.2" r="6.1"/><circle cx="2268.3" cy="467.2" r="6.1"/><circle cx="2277.5" cy="464.2" r="6.1"/><circle cx="2046.0" cy="480.8" r="6.1"/><circle cx="2151.4" cy="489.8" r="6.1"/><circle cx="2187.8" cy="486.1" r="6.1"/><circle cx="2302.4" cy="490.3" r="6.1"/><circle cx="2388.4" cy="363.2" r="6.1"/><circle cx="2486.3" cy="360.2" r="6.1"/><circle cx="2587.0" cy="375.1" r="6.1"/><circle cx="2467.9" cy="409.0" r="6.1"/><circle cx="2381.4" cy="444.1" r="6.1"/><circle cx="2406.8" cy="442.0" r="6.1"/><circle cx="2448.2" cy="482.4" r="6.1"/><circle cx="2465.9" cy="483.9" r="6.1"/><circle cx="2383.4" cy="483.6" r="6.1"/><circle cx="2393.8" cy="488.8" r="6.1"/><circle cx="2354.0" cy="484.9" r="6.1"/><circle cx="2359.5" cy="487.3" r="6.1"/><circle cx="2349.0" cy="488.8" r="6.1"/><circle cx="2676.0" cy="476.2" r="6.1"/><circle cx="2974.0" cy="476.2" r="6.1"/><circle cx="3013.5" cy="508.5" r="6.1"/><circle cx="3013.5" cy="525.7" r="6.1"/><circle cx="3010.5" cy="527.2" r="6.1"/><circle cx="3007.0" cy="583.3" r="6.1"/><circle cx="3013.5" cy="583.3" r="6.1"/><circle cx="2675.0" cy="586.3" r="6.1"/><circle cx="2675.0" cy="601.5" r="6.1"/><circle cx="2661.0" cy="609.6" r="6.1"/><circle cx="2941.5" cy="635.8" r="6.1"/><circle cx="2974.0" cy="640.9" r="6.1"/><circle cx="2154.1" cy="500.3" r="6.1"/><circle cx="2196.5" cy="497.9" r="6.1"/><circle cx="2205.2" cy="497.9" r="6.1"/><circle cx="2222.7" cy="504.4" r="6.1"/><circle cx="2261.3" cy="491.0" r="6.1"/><circle cx="2257.5" cy="493.6" r="6.1"/><circle cx="2270.8" cy="492.4" r="6.1"/><circle cx="2241.3" cy="505.7" r="6.1"/><circle cx="2246.8" cy="507.4" r="6.1"/><circle cx="2255.6" cy="506.2" r="6.1"/><circle cx="2245.8" cy="515.0" r="6.1"/><circle cx="2215.7" cy="514.5" r="6.1"/><circle cx="2197.2" cy="517.5" r="6.1"/><circle cx="2227.6" cy="520.0" r="6.1"/><circle cx="2293.2" cy="507.4" r="6.1"/><circle cx="2277.0" cy="513.0" r="6.1"/><circle cx="2321.8" cy="494.4" r="6.1"/><circle cx="2351.0" cy="488.5" r="6.1"/><circle cx="2349.8" cy="507.4" r="6.1"/><circle cx="2288.2" cy="528.3" r="6.1"/><circle cx="2277.0" cy="526.3" r="6.1"/><circle cx="2275.7" cy="536.9" r="6.1"/><circle cx="2323.1" cy="528.8" r="6.1"/><circle cx="2349.8" cy="528.8" r="6.1"/><circle cx="2259.3" cy="530.1" r="6.1"/><circle cx="2258.3" cy="536.4" r="6.1"/><circle cx="2258.3" cy="544.0" r="6.1"/><circle cx="2246.3" cy="539.6" r="6.1"/><circle cx="2191.5" cy="530.1" r="6.1"/><circle cx="2191.5" cy="536.4" r="6.1"/><circle cx="2189.5" cy="542.2" r="6.1"/><circle cx="2191.5" cy="548.9" r="6.1"/><circle cx="2223.9" cy="528.8" r="6.1"/><circle cx="2220.2" cy="533.4" r="6.1"/><circle cx="2227.6" cy="532.6" r="6.1"/><circle cx="2228.9" cy="542.7" r="6.1"/><circle cx="2204.0" cy="544.0" r="6.1"/><circle cx="2211.4" cy="542.7" r="6.1"/><circle cx="2215.2" cy="548.9" r="6.1"/><circle cx="2206.5" cy="552.8" r="6.1"/><circle cx="2211.4" cy="557.8" r="6.1"/><circle cx="2201.5" cy="562.4" r="6.1"/><circle cx="2222.7" cy="552.8" r="6.1"/><circle cx="2223.9" cy="561.6" r="6.1"/><circle cx="2231.4" cy="559.0" r="6.1"/><circle cx="2143.9" cy="533.9" r="6.1"/><circle cx="2161.1" cy="548.7" r="6.1"/><circle cx="2169.8" cy="551.0" r="6.1"/><circle cx="2168.3" cy="559.8" r="6.1"/><circle cx="2138.7" cy="556.0" r="6.1"/><circle cx="2151.1" cy="563.6" r="6.1"/><circle cx="2134.7" cy="567.3" r="6.1"/><circle cx="2145.4" cy="570.4" r="6.1"/><circle cx="2120.2" cy="576.7" r="6.1"/><circle cx="2153.4" cy="581.7" r="6.1"/><circle cx="2149.6" cy="586.2" r="6.1"/><circle cx="2078.9" cy="593.1" r="6.1"/><circle cx="2082.3" cy="603.6" r="6.1"/><circle cx="2118.2" cy="600.1" r="6.1"/><circle cx="2119.7" cy="608.1" r="6.1"/><circle cx="2104.8" cy="609.5" r="6.1"/><circle cx="2097.3" cy="613.9" r="6.1"/><circle cx="2131.7" cy="607.6" r="6.1"/><circle cx="2137.9" cy="609.5" r="6.1"/><circle cx="2054.9" cy="625.3" r="6.1"/><circle cx="2066.4" cy="621.3" r="6.1"/><circle cx="2069.4" cy="625.8" r="6.1"/><circle cx="2088.1" cy="622.0" r="6.1"/><circle cx="2088.8" cy="628.2" r="6.1"/><circle cx="2099.3" cy="625.8" r="6.1"/><circle cx="2101.8" cy="630.8" r="6.1"/><circle cx="2113.0" cy="622.0" r="6.1"/><circle cx="2121.7" cy="619.5" r="6.1"/><circle cx="2288.7" cy="555.3" r="6.1"/><circle cx="2297.4" cy="560.9" r="6.1"/><circle cx="2288.7" cy="566.6" r="6.1"/><circle cx="2293.2" cy="574.2" r="6.1"/><circle cx="2288.7" cy="579.2" r="6.1"/><circle cx="2317.4" cy="557.0" r="6.1"/><circle cx="2328.6" cy="562.1" r="6.1"/><circle cx="2322.3" cy="568.6" r="6.1"/><circle cx="2307.4" cy="571.7" r="6.1"/><circle cx="2311.1" cy="577.9" r="6.1"/><circle cx="2316.1" cy="582.5" r="6.1"/><circle cx="2328.6" cy="580.5" r="6.1"/><circle cx="2342.3" cy="589.8" r="6.1"/><circle cx="2328.6" cy="594.3" r="6.1"/><circle cx="2339.8" cy="603.1" r="6.1"/><circle cx="2352.2" cy="603.1" r="6.1"/><circle cx="2257.5" cy="555.3" r="6.1"/><circle cx="2267.5" cy="557.8" r="6.1"/><circle cx="2275.0" cy="564.1" r="6.1"/><circle cx="2263.8" cy="564.1" r="6.1"/><circle cx="2243.8" cy="565.3" r="6.1"/><circle cx="2248.8" cy="569.1" r="6.1"/><circle cx="2230.1" cy="570.4" r="6.1"/><circle cx="2275.0" cy="584.2" r="6.1"/><circle cx="2275.7" cy="590.6" r="6.1"/><circle cx="2286.2" cy="594.3" r="6.1"/><circle cx="2288.7" cy="599.3" r="6.1"/><circle cx="2291.2" cy="606.9" r="6.1"/><circle cx="2301.2" cy="593.1" r="6.1"/><circle cx="2308.6" cy="594.3" r="6.1"/><circle cx="2316.1" cy="595.5" r="6.1"/><circle cx="2302.4" cy="603.1" r="6.1"/><circle cx="2317.4" cy="605.6" r="6.1"/><circle cx="2303.7" cy="613.2" r="6.1"/><circle cx="2316.1" cy="613.2" r="6.1"/><circle cx="2327.3" cy="614.4" r="6.1"/><circle cx="2341.0" cy="619.5" r="6.1"/><circle cx="2348.5" cy="614.4" r="6.1"/><circle cx="2271.3" cy="608.1" r="6.1"/><circle cx="2170.3" cy="573.4" r="6.1"/><circle cx="2177.8" cy="569.1" r="6.1"/><circle cx="2187.8" cy="564.1" r="6.1"/><circle cx="2195.2" cy="567.3" r="6.1"/><circle cx="2231.4" cy="574.2" r="6.1"/><circle cx="2240.1" cy="570.4" r="6.1"/><circle cx="2248.8" cy="566.6" r="6.1"/><circle cx="2257.5" cy="562.9" r="6.1"/><circle cx="2265.0" cy="569.1" r="6.1"/><circle cx="2175.3" cy="580.5" r="6.1"/><circle cx="2551.6" cy="493.6" r="6.1"/><circle cx="2587.0" cy="498.6" r="6.1"/><circle cx="2476.6" cy="506.9" r="6.1"/><circle cx="2423.8" cy="524.6" r="6.1"/><circle cx="2587.0" cy="532.1" r="6.1"/><circle cx="2551.4" cy="534.6" r="6.1"/><circle cx="2552.8" cy="548.2" r="6.1"/><circle cx="2541.6" cy="560.9" r="6.1"/><circle cx="2382.6" cy="531.9" r="6.1"/><circle cx="2383.4" cy="537.6" r="6.1"/><circle cx="2371.9" cy="540.1" r="6.1"/><circle cx="2383.4" cy="550.4" r="6.1"/><circle cx="2430.7" cy="554.8" r="6.1"/><circle cx="2476.3" cy="544.0" r="6.1"/><circle cx="2476.6" cy="555.3" r="6.1"/><circle cx="2496.3" cy="549.4" r="6.1"/><circle cx="2487.3" cy="565.8" r="6.1"/><circle cx="2368.9" cy="566.6" r="6.1"/><circle cx="2372.7" cy="569.6" r="6.1"/><circle cx="2604.7" cy="581.2" r="6.1"/><circle cx="2501.0" cy="580.5" r="6.1"/><circle cx="2501.5" cy="590.1" r="6.1"/><circle cx="2487.6" cy="587.5" r="6.1"/><circle cx="2486.8" cy="593.1" r="6.1"/><circle cx="2487.6" cy="596.0" r="6.1"/><circle cx="2473.8" cy="598.8" r="6.1"/><circle cx="2552.8" cy="593.8" r="6.1"/><circle cx="2587.0" cy="598.5" r="6.1"/><circle cx="2661.0" cy="609.5" r="6.1"/><circle cx="2498.0" cy="600.6" r="6.1"/><circle cx="2363.4" cy="590.6" r="6.1"/><circle cx="2344.0" cy="590.1" r="6.1"/><circle cx="2361.4" cy="598.5" r="6.1"/><circle cx="2354.0" cy="603.6" r="6.1"/><circle cx="2382.6" cy="599.3" r="6.1"/><circle cx="2430.7" cy="602.1" r="6.1"/><circle cx="2430.7" cy="614.2" r="6.1"/><circle cx="2436.7" cy="625.3" r="6.1"/><circle cx="2428.7" cy="630.8" r="6.1"/><circle cx="2421.3" cy="634.8" r="6.1"/><circle cx="2387.1" cy="613.7" r="6.1"/><circle cx="2362.7" cy="611.9" r="6.1"/><circle cx="2349.0" cy="615.7" r="6.1"/><circle cx="2359.0" cy="620.8" r="6.1"/><circle cx="2368.9" cy="624.5" r="6.1"/><circle cx="2381.4" cy="623.8" r="6.1"/><circle cx="2388.9" cy="628.2" r="6.1"/><circle cx="2351.5" cy="625.8" r="6.1"/><circle cx="2471.1" cy="625.8" r="6.1"/><circle cx="2468.6" cy="632.1" r="6.1"/><circle cx="2483.6" cy="622.0" r="6.1"/><circle cx="2491.0" cy="620.8" r="6.1"/><circle cx="2503.5" cy="620.8" r="6.1"/><circle cx="2516.7" cy="621.3" r="6.1"/><circle cx="2506.0" cy="627.0" r="6.1"/><circle cx="2535.9" cy="620.8" r="6.1"/><circle cx="2528.4" cy="634.8" r="6.1"/><circle cx="2580.3" cy="628.7" r="6.1"/><circle cx="2642.3" cy="634.8" r="6.1"/><circle cx="1952.6" cy="645.9" r="6.1"/><circle cx="1966.3" cy="647.1" r="6.1"/><circle cx="2007.4" cy="640.1" r="6.1"/><circle cx="1978.7" cy="644.6" r="6.1"/><circle cx="1991.7" cy="644.6" r="6.1"/><circle cx="1895.2" cy="645.1" r="6.1"/><circle cx="1830.4" cy="646.4" r="6.1"/><circle cx="1845.4" cy="648.1" r="6.1"/><circle cx="1861.6" cy="647.6" r="6.1"/><circle cx="1921.9" cy="647.6" r="6.1"/><circle cx="1814.2" cy="649.7" r="6.1"/><circle cx="2041.0" cy="646.4" r="6.1"/><circle cx="1871.6" cy="649.2" r="6.1"/><circle cx="1906.5" cy="650.2" r="6.1"/><circle cx="1881.5" cy="650.2" r="6.1"/><circle cx="1943.8" cy="649.7" r="6.1"/><circle cx="2055.2" cy="625.0" r="6.1"/><circle cx="2066.4" cy="620.8" r="6.1"/><circle cx="2070.2" cy="625.0" r="6.1"/><circle cx="2078.9" cy="593.0" r="6.1"/><circle cx="2081.9" cy="603.1" r="6.1"/><circle cx="2120.0" cy="576.6" r="6.1"/><circle cx="2088.4" cy="621.5" r="6.1"/><circle cx="2087.6" cy="627.0" r="6.1"/><circle cx="2096.3" cy="613.9" r="6.1"/><circle cx="2105.1" cy="610.2" r="6.1"/><circle cx="2100.1" cy="623.3" r="6.1"/><circle cx="2102.6" cy="630.8" r="6.1"/><circle cx="2118.3" cy="599.3" r="6.1"/><circle cx="2120.0" cy="608.1" r="6.1"/><circle cx="2112.5" cy="621.3" r="6.1"/><circle cx="2122.5" cy="618.2" r="6.1"/><circle cx="2131.2" cy="607.6" r="6.1"/><circle cx="2135.0" cy="567.8" r="6.1"/><circle cx="2144.9" cy="570.4" r="6.1"/><circle cx="2151.2" cy="562.8" r="6.1"/><circle cx="2152.4" cy="583.0" r="6.1"/><circle cx="2149.9" cy="590.6" r="6.1"/><circle cx="2144.9" cy="596.8" r="6.1"/><circle cx="2163.6" cy="584.2" r="6.1"/><circle cx="2329.4" cy="580.5" r="6.1"/><circle cx="2329.4" cy="594.3" r="6.1"/><circle cx="2341.8" cy="590.6" r="6.1"/><circle cx="2339.3" cy="603.1" r="6.1"/><circle cx="2353.0" cy="603.1" r="6.1"/><circle cx="2363.0" cy="591.8" r="6.1"/><circle cx="2306.9" cy="571.7" r="6.1"/><circle cx="2314.4" cy="580.5" r="6.1"/><circle cx="2318.1" cy="593.0" r="6.1"/><circle cx="2316.9" cy="605.6" r="6.1"/><circle cx="2325.6" cy="615.7" r="6.1"/><circle cx="2303.2" cy="613.2" r="6.1"/><circle cx="2303.2" cy="596.8" r="6.1"/><circle cx="2299.5" cy="591.8" r="6.1"/><circle cx="2289.5" cy="577.9" r="6.1"/><circle cx="2275.8" cy="584.2" r="6.1"/><circle cx="2277.0" cy="590.6" r="6.1"/><circle cx="2285.7" cy="596.8" r="6.1"/><circle cx="2289.5" cy="608.1" r="6.1"/><circle cx="2270.8" cy="610.7" r="6.1"/><circle cx="2348.0" cy="613.2" r="6.1"/><circle cx="2360.5" cy="611.9" r="6.1"/><circle cx="2340.6" cy="620.8" r="6.1"/><circle cx="2323.1" cy="566.6" r="6.1"/><circle cx="2328.1" cy="562.8" r="6.1"/><circle cx="2363.5" cy="590.6" r="6.1"/><circle cx="2361.0" cy="599.3" r="6.1"/><circle cx="2382.9" cy="599.3" r="6.1"/><circle cx="2362.2" cy="611.9" r="6.1"/><circle cx="2387.2" cy="613.7" r="6.1"/><circle cx="2380.9" cy="623.3" r="6.1"/><circle cx="2388.4" cy="628.2" r="6.1"/><circle cx="2372.2" cy="624.5" r="6.1"/><circle cx="2371.0" cy="639.7" r="6.1"/><circle cx="2361.0" cy="622.0" r="6.1"/><circle cx="2361.0" cy="632.1" r="6.1"/><circle cx="2468.1" cy="632.1" r="6.1"/><circle cx="2474.4" cy="627.0" r="6.1"/><circle cx="2473.1" cy="637.1" r="6.1"/><circle cx="2483.1" cy="622.0" r="6.1"/><circle cx="2490.6" cy="620.8" r="6.1"/><circle cx="2485.6" cy="632.1" r="6.1"/><circle cx="2503.0" cy="632.1" r="6.1"/><circle cx="2505.5" cy="625.7" r="6.1"/><circle cx="2498.1" cy="637.1" r="6.1"/><circle cx="2490.6" cy="639.7" r="6.1"/><circle cx="2528.0" cy="637.1" r="6.1"/><circle cx="2531.7" cy="639.7" r="6.1"/><circle cx="2656.8" cy="641.1" r="6.1"/><circle cx="2590.3" cy="645.1" r="6.1"/><circle cx="2560.9" cy="645.9" r="6.1"/><circle cx="2439.5" cy="642.1" r="6.1"/><circle cx="2448.7" cy="647.1" r="6.1"/><circle cx="2459.4" cy="644.6" r="6.1"/><circle cx="2420.8" cy="639.7" r="6.1"/><circle cx="2409.6" cy="645.9" r="6.1"/><circle cx="2400.9" cy="647.1" r="6.1"/><circle cx="2380.9" cy="647.1" r="6.1"/><circle cx="2505.5" cy="650.2" r="6.1"/><circle cx="2518.0" cy="650.7" r="6.1"/><circle cx="2545.4" cy="649.2" r="6.1"/><circle cx="2569.1" cy="648.4" r="6.1"/><circle cx="2620.2" cy="649.2" r="6.1"/><circle cx="2675.0" cy="586.2" r="6.1"/><circle cx="2675.0" cy="601.4" r="6.1"/><circle cx="2792.6" cy="654.2" r="6.1"/><circle cx="2812.0" cy="654.2" r="6.1"/><circle cx="2824.5" cy="654.0" r="6.1"/><circle cx="2858.2" cy="653.7" r="6.1"/><circle cx="2913.7" cy="653.7" r="6.1"/><circle cx="2974.0" cy="653.5" r="6.1"/><circle cx="2745.3" cy="651.2" r="6.1"/><circle cx="2762.7" cy="651.5" r="6.1"/><circle cx="2257.9" cy="544.8" r="6.1"/><circle cx="2263.9" cy="556.8" r="6.1"/><circle cx="2274.8" cy="565.8" r="6.1"/><circle cx="2257.9" cy="557.8" r="6.1"/><circle cx="2268.8" cy="554.8" r="6.1"/><circle cx="2288.6" cy="554.8" r="6.1"/><circle cx="2297.1" cy="560.9" r="6.1"/><circle cx="2288.6" cy="563.9" r="6.1"/><circle cx="2293.6" cy="574.8" r="6.1"/><circle cx="2288.6" cy="578.8" r="6.1"/><circle cx="2317.9" cy="557.4" r="6.1"/><circle cx="2328.8" cy="561.9" r="6.1"/><circle cx="2322.3" cy="568.4" r="6.1"/><circle cx="2307.0" cy="571.5" r="6.1"/><circle cx="2310.4" cy="578.8" r="6.1"/><circle cx="2316.4" cy="581.9" r="6.1"/><circle cx="2328.8" cy="580.5" r="6.1"/><circle cx="2328.8" cy="594.4" r="6.1"/><circle cx="2342.1" cy="589.4" r="6.1"/><circle cx="2339.7" cy="602.9" r="6.1"/><circle cx="2363.5" cy="590.5" r="6.1"/><circle cx="2359.9" cy="598.8" r="6.1"/><circle cx="2353.4" cy="602.9" r="6.1"/><circle cx="2361.9" cy="611.9" r="6.1"/><circle cx="2349.0" cy="613.9" r="6.1"/><circle cx="2382.7" cy="598.8" r="6.1"/><circle cx="2387.0" cy="614.3" r="6.1"/><circle cx="2388.6" cy="627.8" r="6.1"/><circle cx="2381.7" cy="622.9" r="6.1"/><circle cx="2374.8" cy="624.8" r="6.1"/><circle cx="2383.3" cy="550.4" r="6.1"/><circle cx="2371.8" cy="540.9" r="6.1"/><circle cx="2430.8" cy="554.4" r="6.1"/><circle cx="2430.8" cy="602.5" r="6.1"/><circle cx="2430.8" cy="614.5" r="6.1"/><circle cx="2436.2" cy="625.2" r="6.1"/><circle cx="2428.2" cy="630.9" r="6.1"/><circle cx="2420.3" cy="636.8" r="6.1"/><circle cx="2439.1" cy="641.9" r="6.1"/><circle cx="2476.4" cy="543.9" r="6.1"/><circle cx="2476.4" cy="554.8" r="6.1"/><circle cx="2487.6" cy="565.8" r="6.1"/><circle cx="2487.6" cy="587.8" r="6.1"/><circle cx="2486.7" cy="594.8" r="6.1"/><circle cx="2473.8" cy="598.8" r="6.1"/><circle cx="2468.8" cy="631.9" r="6.1"/><circle cx="2475.8" cy="624.8" r="6.1"/><circle cx="2483.7" cy="622.9" r="6.1"/><circle cx="2489.6" cy="620.9" r="6.1"/><circle cx="2257.0" cy="578.8" r="6.1"/><circle cx="2263.9" cy="574.8" r="6.1"/><circle cx="2275.8" cy="584.8" r="6.1"/><circle cx="2259.9" cy="590.9" r="6.1"/><circle cx="2273.8" cy="591.9" r="6.1"/><circle cx="2286.7" cy="594.8" r="6.1"/><circle cx="2279.7" cy="600.9" r="6.1"/><circle cx="2287.6" cy="606.8" r="6.1"/><circle cx="2271.8" cy="609.9" r="6.1"/><circle cx="2257.9" cy="602.9" r="6.1"/><circle cx="2300.5" cy="592.9" r="6.1"/><circle cx="2303.5" cy="598.8" r="6.1"/><circle cx="2317.3" cy="595.8" r="6.1"/><circle cx="2302.5" cy="607.8" r="6.1"/><circle cx="2317.3" cy="606.8" r="6.1"/><circle cx="2301.5" cy="614.8" r="6.1"/><circle cx="2316.4" cy="613.9" r="6.1"/><circle cx="2326.9" cy="615.8" r="6.1"/><circle cx="2341.1" cy="620.9" r="6.1"/><circle cx="2355.0" cy="618.8" r="6.1"/><circle cx="2366.9" cy="622.9" r="6.1"/><circle cx="2370.8" cy="636.8" r="6.1"/><circle cx="2380.7" cy="644.9" r="6.1"/><circle cx="2408.4" cy="644.9" r="6.1"/><circle cx="2396.6" cy="645.8" r="6.1"/><circle cx="2607.7" cy="654.2" r="6.1"/><circle cx="2612.7" cy="654.2" r="6.1"/><circle cx="2623.9" cy="653.5" r="6.1"/><circle cx="2628.9" cy="654.2" r="6.1"/><circle cx="2640.1" cy="654.2" r="6.1"/><circle cx="2646.3" cy="654.2" r="6.1"/><circle cx="2655.1" cy="654.2" r="6.1"/><circle cx="2662.5" cy="654.2" r="6.1"/><circle cx="2673.0" cy="653.5" r="6.1"/><circle cx="2358.5" cy="91.0" r="6.1"/><circle cx="2218.5" cy="147.0" r="6.1"/><circle cx="2258.5" cy="160.5" r="6.1"/><circle cx="2360.5" cy="153.0" r="6.1"/><circle cx="2277.0" cy="196.0" r="6.1"/><circle cx="2318.0" cy="215.0" r="6.1"/><circle cx="2265.0" cy="228.5" r="6.1"/><circle cx="2242.5" cy="232.0" r="6.1"/><circle cx="2265.5" cy="257.0" r="6.1"/><circle cx="2255.0" cy="260.5" r="6.1"/><circle cx="2246.0" cy="263.5" r="6.1"/><circle cx="2243.5" cy="266.0" r="6.1"/><circle cx="2259.0" cy="268.0" r="6.1"/><circle cx="2309.0" cy="286.5" r="6.1"/><circle cx="2214.0" cy="291.5" r="6.1"/><circle cx="2374.5" cy="278.0" r="6.1"/><circle cx="2303.5" cy="329.0" r="6.1"/><circle cx="2244.5" cy="336.0" r="6.1"/><circle cx="2218.0" cy="344.5" r="6.1"/><circle cx="2236.0" cy="357.0" r="6.1"/><circle cx="2432.5" cy="99.5" r="6.1"/><circle cx="2394.5" cy="134.5" r="6.1"/><circle cx="2403.5" cy="176.5" r="6.1"/><circle cx="2516.0" cy="157.0" r="6.1"/><circle cx="2400.5" cy="275.5" r="6.1"/><circle cx="2583.0" cy="289.5" r="6.1"/><circle cx="2529.5" cy="309.0" r="6.1"/><circle cx="2310.5" cy="477.0" r="6.1"/><circle cx="2311.1" cy="477.1" r="6.1"/><circle cx="2544.1" cy="464.4" r="6.1"/><circle cx="2721.0" cy="631.5" r="6.1"/><circle cx="2815.5" cy="654.0" r="6.1"/><circle cx="2840.9" cy="654.0" r="6.1"/><circle cx="2496.5" cy="618.6" r="6.1"/><circle cx="2506.0" cy="617.8" r="6.1"/></g>
</svg>
</body></html>
